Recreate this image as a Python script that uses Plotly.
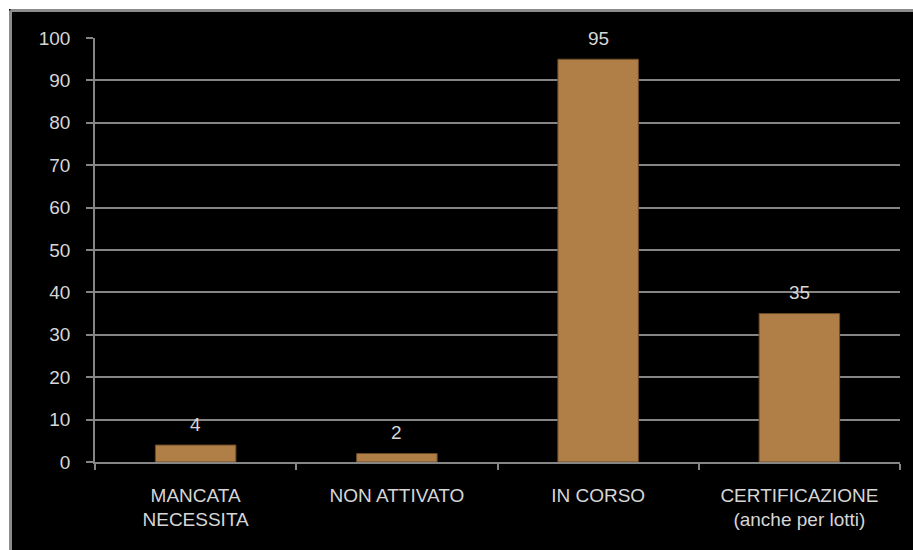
import plotly.graph_objects as go

categories = ["MANCATA<br>NECESSITA", "NON ATTIVATO", "IN CORSO", "CERTIFICAZIONE<br>(anche per lotti)"]
values = [4, 2, 95, 35]
y_ticks = [0, 10, 20, 30, 40, 50, 60, 70, 80, 90, 100]

W, H = 913, 550
ML, MR, MT, MB = 95, 13, 38, 88
PW, PH = W - ML - MR, H - MT - MB

def px_x(p):
    return (p - ML) / PW

def px_y(p):
    return (H - MB - p) / PH

text_col = "#d6d6d6"
grid_col = "#858585"
font = dict(family="Liberation Sans, Arial, sans-serif", size=19, color=text_col)

fig = go.Figure(go.Bar(
    x=categories, y=values, width=0.4,
    marker=dict(color="#b07f47", line=dict(color="#6e4c28", width=1)),
))

for c, v in zip(categories, values):
    fig.add_annotation(x=c, y=v, text=str(v), showarrow=False,
                       yanchor="middle", yshift=21, font=font)

shapes = [
    dict(type="rect", xref="paper", yref="paper", x0=px_x(0), x1=px_x(W), y0=px_y(0), y1=px_y(9),
         fillcolor="white", line=dict(width=0), layer="above"),
    dict(type="rect", xref="paper", yref="paper", x0=px_x(0), x1=px_x(9), y0=px_y(0), y1=px_y(H),
         fillcolor="white", line=dict(width=0), layer="above"),
    dict(type="line", xref="paper", yref="paper", x0=px_x(10.5), x1=px_x(W), y0=px_y(10.5), y1=px_y(10.5),
         line=dict(color="#8c8c8c", width=3), layer="above"),
    dict(type="line", xref="paper", yref="paper", x0=px_x(10.5), x1=px_x(10.5), y0=px_y(10.5), y1=px_y(H),
         line=dict(color="#8c8c8c", width=3), layer="above"),
]

fig.update_layout(
    width=W, height=H,
    margin=dict(l=ML, r=MR, t=MT, b=MB, pad=0),
    paper_bgcolor="black", plot_bgcolor="black",
    font=font, showlegend=False, bargap=0.6,
    shapes=shapes,
    xaxis=dict(
        showline=True, linecolor=grid_col, linewidth=1.5,
        ticks="outside", tickson="boundaries", ticklen=6, tickcolor=grid_col, tickwidth=1.5,
        tickfont=font, showgrid=False, ticklabelstandoff=15,
    ),
    yaxis=dict(
        range=[0, 100], tickvals=y_ticks, ticktext=[str(t) for t in y_ticks],
        showline=True, linecolor=grid_col, linewidth=1.5,
        ticks="outside", ticklen=7, tickcolor=grid_col, tickwidth=1.5,
        showgrid=True, gridcolor=grid_col, gridwidth=1.5,
        tickfont=font, zeroline=False, ticklabelstandoff=12,
    ),
)

fig.write_html("out.html")
